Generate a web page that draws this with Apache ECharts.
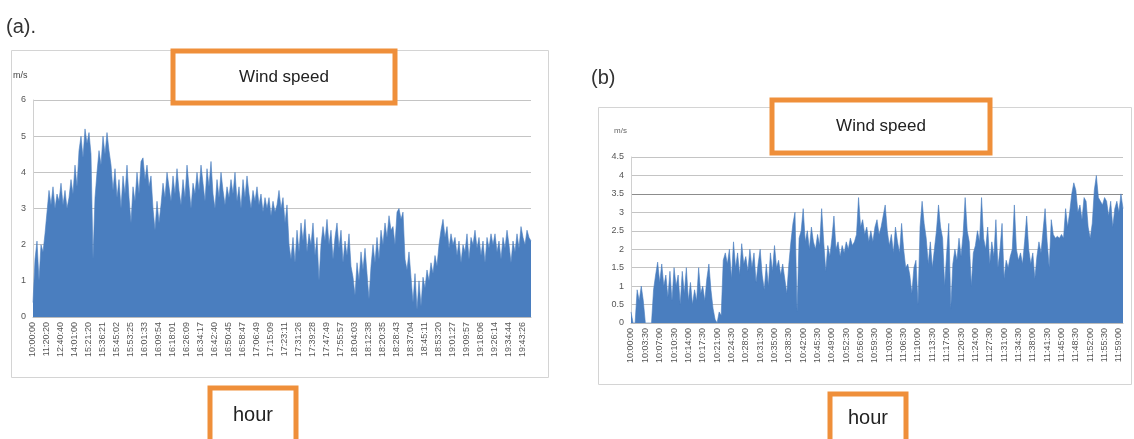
<!DOCTYPE html>
<html><head><meta charset="utf-8">
<script src="https://cdn.jsdelivr.net/npm/echarts@6/dist/echarts.min.js"></script>
<style>html,body{margin:0;padding:0;background:#fff;}#c{width:1134px;height:439px;}</style>
</head><body><div id="c"></div>
<script>
// ---- Chart (a) ----
const ticksA = ['10:00:00','11:20:20','12:40:40','14:01:00','15:21:20','15:36:21','15:45:02','15:53:25','16:01:33','16:09:54','16:18:01','16:26:09','16:34:17','16:42:40','16:50:45','16:58:47','17:06:49','17:15:09','17:23:11','17:31:26','17:39:28','17:47:49','17:55:57','18:04:03','18:12:38','18:20:35','18:28:43','18:37:04','18:45:11','18:53:20','19:01:27','19:09:57','19:18:06','19:26:14','19:34:44','19:43:26'];
const speedA = [0.4,1.6,2.1,1.0,2.0,1.8,2.3,2.9,3.5,3.1,3.6,3.0,3.4,3.2,3.7,3.1,3.5,3.0,3.3,3.8,
3.4,4.2,3.6,4.6,5.0,4.4,5.2,4.8,5.1,4.5,1.6,3.3,4.0,4.6,4.2,5.0,4.5,5.1,4.6,4.2,
3.5,4.1,3.3,3.8,3.0,3.9,3.4,4.2,3.3,2.6,3.6,3.2,4.0,3.4,4.3,4.4,3.8,4.2,3.6,3.9,
3.0,2.4,3.2,2.6,3.1,3.7,3.3,4.0,3.6,3.2,3.9,3.4,4.1,3.5,3.1,3.8,3.3,4.2,3.6,3.0,
3.7,3.4,4.0,3.5,4.2,3.7,3.2,4.1,3.6,4.3,3.4,3.0,3.8,3.3,4.0,3.5,3.1,3.6,3.3,3.8,
3.4,4.0,3.2,3.6,3.0,3.8,3.3,3.9,3.4,3.0,3.5,3.2,3.6,3.1,3.4,2.9,3.3,3.0,3.3,2.8,
3.2,2.9,3.1,3.5,3.0,3.3,2.6,3.1,2.0,1.6,2.2,1.5,2.4,1.8,2.6,2.1,2.7,1.8,2.3,2.0,
2.6,1.7,2.2,1.0,2.0,2.5,2.1,2.7,2.0,2.4,1.6,2.2,2.6,1.9,2.4,1.5,2.1,1.7,2.3,1.4,
1.1,0.6,1.5,1.0,1.8,1.3,1.9,1.2,0.5,1.4,2.0,1.5,2.2,1.6,2.4,2.0,2.6,2.2,2.8,2.4,
2.5,2.0,2.9,3.0,2.7,2.9,1.6,1.3,1.8,1.1,0.4,1.2,0.2,1.0,0.3,1.1,0.8,1.3,1.0,1.5,
1.2,1.7,1.4,2.0,2.4,2.7,2.2,2.5,1.9,2.3,2.0,2.2,1.7,2.1,1.5,2.0,1.8,2.3,1.6,2.2,
2.0,2.4,1.9,2.2,1.7,2.1,1.5,2.2,1.9,2.3,2.0,2.3,1.8,2.1,1.6,2.2,1.9,2.4,2.0,1.5,
2.1,1.8,2.3,1.9,2.5,2.2,2.0,2.4,2.2,2.1];
// ---- Chart (b) ----
const ticksB = ['10:00:00','10:03:30','10:07:00','10:10:30','10:14:00','10:17:30','10:21:00','10:24:30','10:28:00','10:31:30','10:35:00','10:38:30','10:42:00','10:45:30','10:49:00','10:52:30','10:56:00','10:59:30','11:03:00','11:06:30','11:10:00','11:13:30','11:17:00','11:20:30','11:24:00','11:27:30','11:31:00','11:34:30','11:38:00','11:41:30','11:45:00','11:48:30','11:52:00','11:55:30','11:59:00'];
const speedB = [0.3,0,0,0.9,0.6,1.0,0.6,0,0,0,0,0.9,1.3,1.65,1.1,1.6,1.0,1.3,0.7,1.4,
0.6,1.5,1.0,1.3,0.5,1.4,0.8,1.5,0.6,1.1,0.5,0.9,0.6,1.5,0.8,1.0,0.6,1.2,1.6,0.9,
0.4,0.1,0,0.3,0.2,1.7,1.9,1.6,2.0,1.2,2.2,1.5,1.9,1.3,2.15,1.6,1.8,1.4,2.0,1.5,
1.9,1.1,1.6,2.0,1.3,0.9,1.6,1.0,1.9,1.4,2.1,1.5,1.7,1.3,1.6,1.2,0.8,1.6,2.2,2.7,
3.0,0.3,2.3,2.5,3.1,2.2,2.5,2.0,2.6,2.2,2.0,2.4,2.1,3.1,2.2,1.4,2.1,1.8,2.3,2.9,
2.0,2.2,1.8,2.1,1.9,2.2,2.0,2.3,2.1,2.2,2.4,3.4,2.6,2.8,2.4,2.6,2.2,2.5,2.2,2.6,
2.8,2.4,2.6,2.9,3.2,2.5,2.1,2.4,1.9,2.6,2.2,1.9,2.7,2.0,1.5,1.6,1.3,0.8,1.5,1.7,
0.5,2.6,3.3,2.7,2.3,1.6,2.2,1.5,2.0,2.5,3.2,2.6,2.3,1.0,1.9,2.7,0.4,1.6,2.0,1.7,
2.3,1.8,2.4,3.4,2.5,2.2,1.0,1.9,2.1,2.5,2.2,3.4,2.3,2.0,2.6,1.6,2.2,1.8,2.8,1.5,
2.0,2.7,1.2,1.7,1.5,1.8,2.0,3.2,2.0,1.7,1.9,1.6,2.2,2.9,2.0,1.6,1.9,1.2,1.8,2.2,
1.9,2.5,3.1,2.2,1.5,2.8,2.4,2.3,2.35,2.3,2.4,2.3,3.1,2.6,3.0,3.5,3.8,3.6,3.0,3.2,
2.8,3.4,3.3,2.6,2.3,2.7,3.6,4.0,3.4,3.3,3.2,3.4,3.3,2.9,3.3,2.6,3.1,3.3,3.0,3.5,
3.1];
const labelStep = 7;

function cats(values, ticks) {
  return values.map((v, i) => (i % labelStep === 0 && ticks[i / labelStep]) ? ticks[i / labelStep] : '');
}
const ORANGE = '#ef8f3a';
const BLUE = '#4a7ebf';
const font = '"Liberation Sans", Arial, sans-serif';

function xAx(gi, values, ticks) {
  return {
    type: 'category', gridIndex: gi, data: cats(values, ticks), boundaryGap: false,
    axisTick: { show: false },
    axisLine: { lineStyle: { color: '#bcbcbc', width: 1 } },
    axisLabel: { interval: labelStep - 1, rotate: 90, fontSize: 9, color: '#555', margin: 5, fontFamily: font },
    splitLine: { show: false }
  };
}
function yAx(gi, max, step, gridColors) {
  return {
    type: 'value', gridIndex: gi, min: 0, max: max, interval: step,
    axisLine: { show: true, lineStyle: { color: '#d0d0d0' } },
    axisTick: { show: false },
    axisLabel: { fontSize: 9, color: '#555', margin: 7, fontFamily: font },
    splitLine: { lineStyle: { color: gridColors, width: 1 } }
  };
}
function boxWithText(x, y, w, h, text, size) {
  return [
    { type: 'rect', shape: { x: x, y: y, width: w, height: h }, style: { fill: '#fff', stroke: ORANGE, lineWidth: 5 }, z: 10 },
    { type: 'text', x: x + w / 2, y: y + h / 2, style: { text: text, fill: '#222', font: size + 'px ' + font, textAlign: 'center', textVerticalAlign: 'middle' }, z: 11 }
  ];
}
const G = '#c4c4c4';
const chart = echarts.init(document.getElementById('c'), null, { renderer: 'canvas' });
chart.setOption({
  animation: false,
  backgroundColor: '#fff',
  grid: [
    { left: 33, right: 603, top: 100, bottom: 122 },
    { left: 631, right: 11, top: 157, bottom: 116 }
  ],
  xAxis: [xAx(0, speedA, ticksA), xAx(1, speedB, ticksB)],
  yAxis: [yAx(0, 6, 1, G), yAx(1, 4.5, 0.5, [G, G, G, G, G, G, G, '#8c8c8c', G, G])],
  series: [
    { type: 'line', xAxisIndex: 0, yAxisIndex: 0, data: speedA, showSymbol: false, sampling: null,
      lineStyle: { color: BLUE, width: 0.6 }, areaStyle: { color: BLUE, opacity: 1 }, z: 3 },
    { type: 'line', xAxisIndex: 1, yAxisIndex: 1, data: speedB, showSymbol: false, sampling: null,
      lineStyle: { color: BLUE, width: 0.6 }, areaStyle: { color: BLUE, opacity: 1 }, z: 3 }
  ],
  graphic: [
    { type: 'rect', shape: { x: 11.5, y: 50.5, width: 537, height: 327 }, style: { fill: 'none', stroke: '#d4d4d4', lineWidth: 1 }, z: 1 },
    { type: 'rect', shape: { x: 598.5, y: 107.5, width: 533, height: 277 }, style: { fill: 'none', stroke: '#d4d4d4', lineWidth: 1 }, z: 1 },
    { type: 'text', x: 6, y: 27, style: { text: '(a).', fill: '#333', font: '20px ' + font, textVerticalAlign: 'middle' }, z: 5 },
    { type: 'text', x: 591, y: 78, style: { text: '(b)', fill: '#333', font: '20px ' + font, textVerticalAlign: 'middle' }, z: 5 },
    { type: 'text', x: 13, y: 76, style: { text: 'm/s', fill: '#444', font: '9px ' + font, textVerticalAlign: 'middle' }, z: 5 },
    { type: 'text', x: 614, y: 131, style: { text: 'm/s', fill: '#666', font: '8px ' + font, textVerticalAlign: 'middle' }, z: 5 },
    ...boxWithText(173, 51, 222, 52, 'Wind speed', 17),
    ...boxWithText(772, 100, 218, 53, 'Wind speed', 17),
    ...boxWithText(210, 388, 86, 54, 'hour', 20),
    ...boxWithText(830, 394, 76, 48, 'hour', 20)
  ]
});
</script></body></html>
